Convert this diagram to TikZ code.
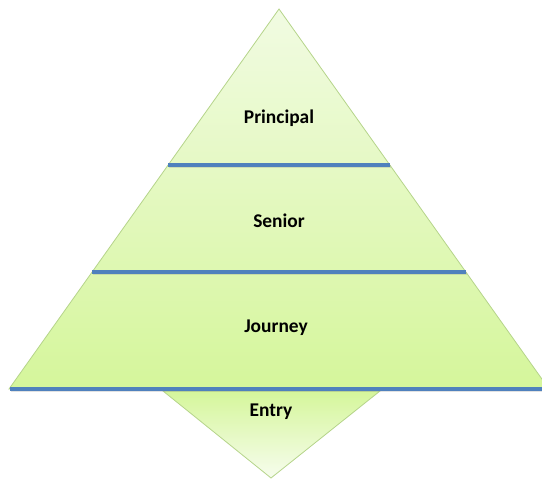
\documentclass[tikz,border=0pt]{standalone}
\usepackage{fontspec}
\setmainfont{Carlito}
\usepackage{tikz}
\usetikzlibrary{calc}

\definecolor{tierlight}{RGB}{241,251,226}
\definecolor{tierdeep}{RGB}{213,246,155}
\definecolor{tieredge}{RGB}{181,212,138}
\definecolor{tierblue}{RGB}{79,129,189}

\tikzset{
  tierface/.style={draw=tieredge, line width=0.8bp, line join=miter},
  tierline/.style={draw=tierblue, line width=3.2bp},
  tiershadow/.style={draw=black!45, line width=3bp, opacity=0.25},
  tierlabel/.style={font=\bfseries\fontsize{19.5}{23}\selectfont, text=black}
}

\begin{document}
\begin{tikzpicture}[>=latex,line join=bevel,x=1bp,y=1bp]
  \useasboundingbox (0,0) rectangle (542,479);
%%
  % Corners
  \coordinate (apex) at (279,470);
  \coordinate (bl) at (9,90);
  \coordinate (br) at (549,90);
  \coordinate (el) at (163,88);
  \coordinate (er) at (380,88);
  \coordinate (etip) at (271,1);
  % Shape: entry wedge
  \shadedraw [tierface, top color=tierdeep, bottom color=tierlight!60!white] (el) -- (er) -- (etip) -- cycle;
  % Shape: main pyramid
  \shadedraw [tierface, top color=tierlight, bottom color=tierdeep] (apex) -- (bl) -- (br) -- cycle;
  % Edge: principal / senior
  \coordinate (ps-l) at ($(apex)!0.4105!(bl)$);
  \coordinate (ps-r) at ($(apex)!0.4105!(br)$);
  \draw [tiershadow] ($(ps-l)+(1,-2)$) -- ($(ps-r)+(1,-2)$);
  \draw [tierline] (ps-l) -- (ps-r);
  % Edge: senior / journey
  \coordinate (sj-l) at ($(apex)!0.692!(bl)$);
  \coordinate (sj-r) at ($(apex)!0.692!(br)$);
  \draw [tiershadow] ($(sj-l)+(1,-2)$) -- ($(sj-r)+(1,-2)$);
  \draw [tierline] (sj-l) -- (sj-r);
  % Edge: journey / entry
  \coordinate (je-l) at ($(bl)+(1,0)$);
  \coordinate (je-r) at (br);
  \draw [tiershadow] ($(je-l)+(1,-2)$) -- ($(je-r)+(1,-2)$);
  \draw [tierline] (je-l) -- (je-r);
  % Node: labels
  \node [tierlabel] (principal) at (279,361) {Principal};
  \node [tierlabel] (senior) at (279,258) {Senior};
  \node [tierlabel] (journey) at (276,151) {Journey};
  \node [tierlabel] (entry) at (271,67) {Entry};
%
\end{tikzpicture}
\end{document}
